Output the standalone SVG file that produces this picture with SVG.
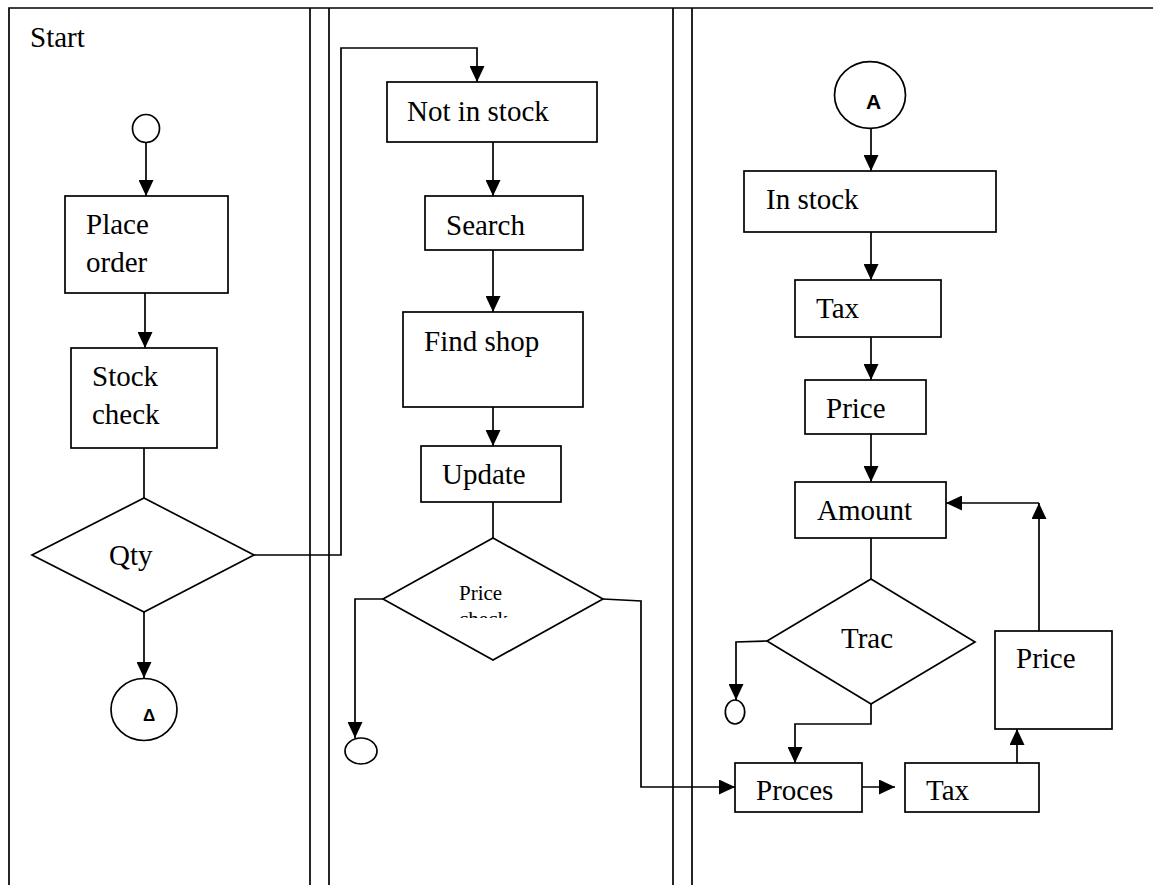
<svg xmlns="http://www.w3.org/2000/svg" width="1153" height="885" viewBox="0 0 1153 885">
<style>
.s{fill:none;stroke:#000;stroke-width:1.7}
.b{fill:#fff;stroke:#000;stroke-width:1.7}
.t{font-family:"Liberation Serif","Times New Roman",serif;font-size:29px;fill:#000}
.sm{font-family:"Liberation Serif","Times New Roman",serif;font-size:21px;fill:#000}
.c{font-family:"Liberation Sans",Arial,sans-serif;fill:#000}
</style>
<defs>
<marker id="ah" viewBox="0 0 16 15" refX="16" refY="7.5" markerWidth="16" markerHeight="15" markerUnits="userSpaceOnUse" orient="auto">
<path d="M0,0 L16,7.5 L0,15 Z" fill="#000"/>
</marker>
<clipPath id="pc"><rect x="380" y="540" width="230" height="78"/></clipPath>
</defs>
<g id="frame" class="s">
<path d="M9,885 V8 H1153"/>
<path d="M310,8 V885 M329,8 V885"/>
<path d="M673,8 V885 M692,8 V885"/>
</g>
<text class="t" x="30" y="47">Start</text>
<g id="connectors" class="s">
<path d="M146,142.5 V196" marker-end="url(#ah)"/>
<path d="M145,293 V348" marker-end="url(#ah)"/>
<path d="M144,448 V498"/>
<path d="M254,555 H341 V48 H477 V82" marker-end="url(#ah)"/>
<path d="M144,612 V678" marker-end="url(#ah)"/>
<path d="M493,142 V196" marker-end="url(#ah)"/>
<path d="M493,250 V312" marker-end="url(#ah)"/>
<path d="M493,407 V446" marker-end="url(#ah)"/>
<path d="M493,502 V538"/>
<path d="M383,599 H355 V738" marker-end="url(#ah)"/>
<path d="M603,599 L641,601 V787 H735" marker-end="url(#ah)"/>
<path d="M871,128.5 V171" marker-end="url(#ah)"/>
<path d="M871,232 V280" marker-end="url(#ah)"/>
<path d="M871,337 V380" marker-end="url(#ah)"/>
<path d="M871,434 V482" marker-end="url(#ah)"/>
<path d="M871,538 V579"/>
<path d="M767,641 L736,642 V700" marker-end="url(#ah)"/>
<path d="M871,704 V724 H795 V763" marker-end="url(#ah)"/>
<path d="M862,787 H895" marker-end="url(#ah)"/>
<path d="M1017,763 V729" marker-end="url(#ah)"/>
<path d="M1039,631 V503" marker-end="url(#ah)"/>
<path d="M1039,503 H946" marker-end="url(#ah)"/>
</g>
<g id="start"><ellipse class="b" cx="146" cy="128.5" rx="13.5" ry="14"/></g>
<g id="place-order"><rect class="b" x="65" y="196" width="163" height="97"/><text class="t" x="86" y="234">Place</text><text class="t" x="86" y="272">order</text></g>
<g id="stock-check"><rect class="b" x="71" y="348" width="146" height="100"/><text class="t" x="92" y="386">Stock</text><text class="t" x="92" y="424">check</text></g>
<g id="qty"><path class="b" d="M144,498 L254,555 L144,612 L32,555 Z"/><text class="t" x="109" y="565">Qty</text></g>
<g id="connector-a1"><ellipse class="b" cx="144" cy="709.5" rx="33" ry="31"/><text class="c" x="143" y="721" font-size="17" font-weight="bold">Δ</text></g>
<g id="not-in-stock"><rect class="b" x="387" y="82" width="210" height="60"/><text class="t" x="407" y="121">Not in stock</text></g>
<g id="search"><rect class="b" x="425" y="196" width="158" height="54"/><text class="t" x="446" y="235">Search</text></g>
<g id="find-shop"><rect class="b" x="403" y="312" width="180" height="95"/><text class="t" x="424" y="351">Find shop</text></g>
<g id="update"><rect class="b" x="421" y="446" width="140" height="56"/><text class="t" x="442" y="484">Update</text></g>
<g id="price-check"><path class="b" d="M493,538 L603,599 L493,660 L383,599 Z"/><g clip-path="url(#pc)"><text class="sm" x="459" y="600">Price</text><text class="sm" x="459" y="626">check</text></g></g>
<g id="end1"><ellipse class="b" cx="361" cy="751" rx="16" ry="13"/></g>
<g id="connector-a2"><ellipse class="b" cx="870" cy="95" rx="35.5" ry="33.3"/><text class="c" x="866" y="109" font-size="21" font-weight="bold">A</text></g>
<g id="in-stock"><rect class="b" x="744" y="171" width="252" height="61"/><text class="t" x="766" y="209">In stock</text></g>
<g id="tax1"><rect class="b" x="795" y="280" width="146" height="57"/><text class="t" x="816" y="318">Tax</text></g>
<g id="price1"><rect class="b" x="805" y="380" width="121" height="54"/><text class="t" x="826" y="418">Price</text></g>
<g id="amount"><rect class="b" x="795" y="482" width="151" height="56"/><text class="t" x="817" y="520">Amount</text></g>
<g id="trac"><path class="b" d="M871,579 L975,642 L871,704 L767,641 Z"/><text class="t" x="841" y="648">Trac</text></g>
<g id="end2"><ellipse class="b" cx="735" cy="712" rx="9.7" ry="12"/></g>
<g id="proces"><rect class="b" x="735" y="763" width="127" height="49"/><text class="t" x="756" y="800">Proces</text></g>
<g id="tax2"><rect class="b" x="905" y="763" width="134" height="49"/><text class="t" x="926" y="800">Tax</text></g>
<g id="price2"><rect class="b" x="995" y="631" width="117" height="98"/><text class="t" x="1016" y="668">Price</text></g>
</svg>
